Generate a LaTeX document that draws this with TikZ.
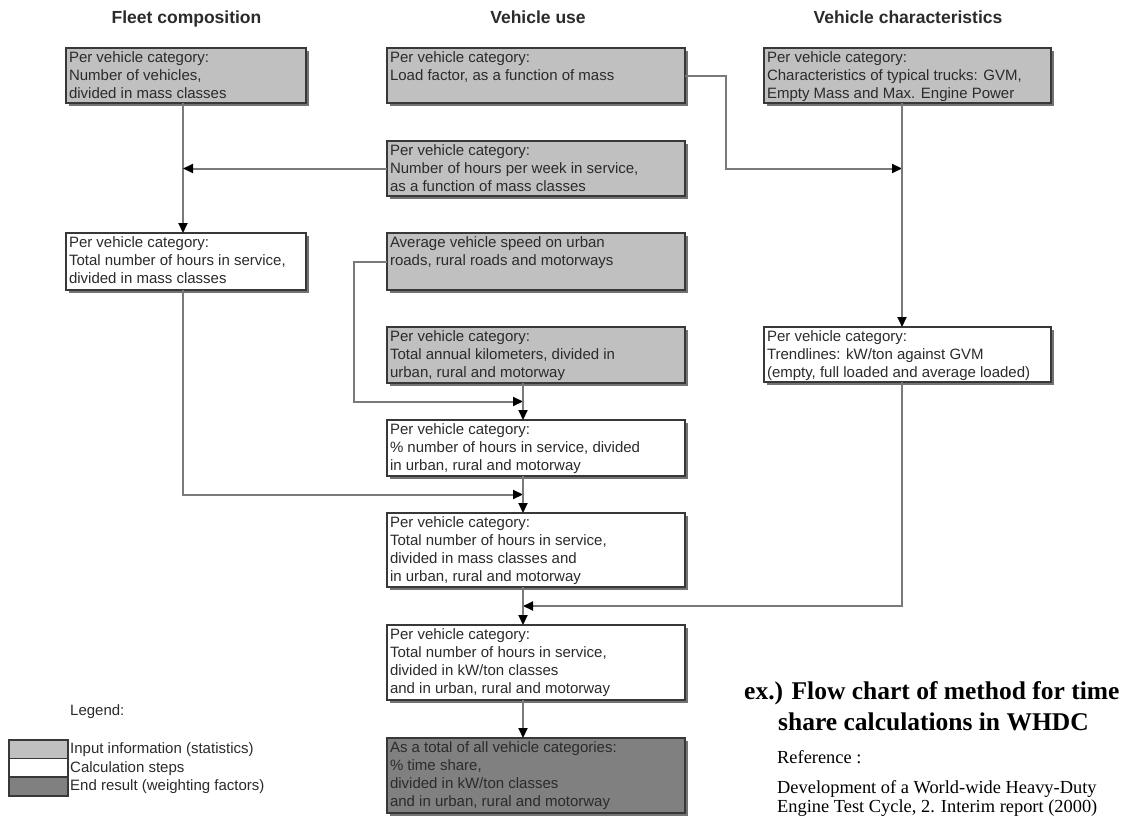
\documentclass[tikz,border=0pt]{standalone}
\usepackage{fontspec}
\setmainfont{Liberation Sans}
\newfontfamily\serifface{Liberation Serif}
\usetikzlibrary{arrows.meta,shadows,calc}
\definecolor{inputfill}{HTML}{C0C0C0}
\definecolor{resultfill}{HTML}{808080}
\definecolor{frame}{HTML}{383838}
\definecolor{wire}{HTML}{7A7A7A}
\definecolor{ink}{HTML}{2B2B2B}
% top-aligned text block of fixed size inside a card
\newcommand{\cardtext}[3]{\parbox[t][#2][t]{#1}{\raggedright #3}}
\begin{document}
\begin{tikzpicture}[x=1pt,y=-1pt,
  card/.style={draw=frame, line width=1.6pt, anchor=north west,
    inner xsep=3pt, inner ysep=4pt, outer sep=0pt, text=ink,
    font=\fontsize{15}{18}\selectfont,
    drop shadow={shadow xshift=3pt, shadow yshift=-3pt, fill=black!55, opacity=1}},
  input/.style={card, fill=inputfill},
  calcstep/.style={card, fill=white},
  result/.style={card, fill=resultfill},
  swatch/.style={draw=frame, line width=1.6pt, anchor=north west, inner sep=0pt,
    minimum width=59pt, minimum height=18.7pt},
  flow/.style={draw=wire, line width=2pt, -{Triangle[length=10pt,width=9pt,color=black]}},
  head/.style={anchor=base, inner sep=0pt, font=\bfseries\fontsize{17.5}{21}\selectfont, text=ink},
  plain/.style={anchor=base west, inner sep=0pt, text=ink, font=\fontsize{15}{18}\selectfont},
  titletext/.style={anchor=base west, inner sep=0pt, font=\serifface\bfseries\fontsize{25.5}{30}\selectfont},
  reftext/.style={anchor=base west, inner sep=0pt, font=\serifface\fontsize{18.4}{17}\selectfont},
]
\useasboundingbox[fill=white] (0,0) rectangle (1126,816);

% column headings
\node[head] (h1) at (186.5,24) {Fleet composition};
\node[head] (h2) at (538,24) {Vehicle use};
\node[head] (h3) at (908,24) {Vehicle characteristics};

% boxes
\node[input] (A) at (66,48) {\cardtext{234pt}{47pt}{Per vehicle category:\\Number of vehicles,\\divided in mass classes}};
\node[input] (B) at (387,48) {\cardtext{292pt}{47pt}{Per vehicle category:\\Load factor, as a function of mass}};
\node[input] (C) at (764,48) {\cardtext{281pt}{47pt}{Per vehicle category:\\Characteristics of typical trucks: GVM,\\Empty Mass and Max. Engine Power}};
\node[input] (D) at (387,141) {\cardtext{292pt}{47pt}{Per vehicle category:\\Number of hours per week in service,\\as a function of mass classes}};
\node[calcstep] (E) at (66,233) {\cardtext{234pt}{49pt}{Per vehicle category:\\Total number of hours in service,\\divided in mass classes}};
\node[input] (G) at (387,233) {\cardtext{292pt}{49pt}{Average vehicle speed on urban\\roads, rural roads and motorways}};
\node[input] (H) at (387,327) {\cardtext{292pt}{48pt}{Per vehicle category:\\Total annual kilometers, divided in\\urban, rural and motorway}};
\node[calcstep] (F) at (764,327) {\cardtext{281pt}{47pt}{Per vehicle category:\\Trendlines: kW/ton against GVM\\(empty, full loaded and average loaded)}};
\node[calcstep] (I) at (387,420) {\cardtext{292pt}{48pt}{Per vehicle category:\\\% number of hours in service, divided\\in urban, rural and motorway}};
\node[calcstep] (J) at (387,513) {\cardtext{292pt}{66pt}{Per vehicle category:\\Total number of hours in service,\\divided in mass classes and\\in urban, rural and motorway}};
\node[calcstep] (K) at (387,625) {\cardtext{292pt}{67pt}{Per vehicle category:\\Total number of hours in service,\\divided in kW/ton classes\\and in urban, rural and motorway}};
\node[result] (L) at (387,738) {\cardtext{292pt}{67pt}{As a total of all vehicle categories:\\\% time share,\\divided in kW/ton classes\\and in urban, rural and motorway}};

% connector guide positions
\coordinate (fx) at (183,0);
\coordinate (mx) at (523,0);
\coordinate (cx) at (902,0);
\coordinate (lx) at (726,0);
\coordinate (gx) at (354,0);
\coordinate (m1) at ($(H.south)!0.5!(I.north)$);
\coordinate (m2) at ($(I.south)!0.5!(J.north)$);
\coordinate (m3) at ($(J.south)!0.5!(K.north)$);

\draw[flow] (A.south -| fx) -- (E.north -| fx);
\draw[flow] (D.west) -- (D.west -| fx);
\draw[flow] (B.east) -| (lx |- D.west) -- (D.west -| cx);
\draw[flow] (C.south -| cx) -- (F.north -| cx);
\draw[flow] (G.west) -| (gx |- m1) -- (m1 -| mx);
\draw[flow] (H.south -| mx) -- (I.north -| mx);
\draw[flow] (E.south -| fx) |- (m2 -| mx);
\draw[flow] (I.south -| mx) -- (J.north -| mx);
\draw[flow] (F.south -| cx) |- (m3 -| mx);
\draw[flow] (J.south -| mx) -- (K.north -| mx);
\draw[flow] (K.south -| mx) -- (L.north -| mx);

% legend
\node[plain] (lg) at (70,715) {Legend:};
\node[swatch, fill=inputfill] (s1) at (8,739) {};
\node[swatch, fill=white] (s2) at (8,757.7) {};
\node[swatch, fill=resultfill] (s3) at (8,776.4) {};
\node[plain] (t1) at (70,753) {Input information (statistics)};
\node[plain] (t2) at (70,772) {Calculation steps};
\node[plain] (t3) at (70,790) {End result (weighting factors)};

% caption and source
\node[titletext] (c1) at (744,699) {ex.) Flow chart of method for time};
\node[titletext] (c2) at (778,730) {share calculations in WHDC};
\node[reftext] (r0) at (777,763) {Reference :};
\node[reftext] (r1) at (777,793) {Development of a World-wide Heavy-Duty};
\node[reftext] (r2) at (777,812) {Engine Test Cycle, 2. Interim report (2000)};
\end{tikzpicture}
\end{document}
